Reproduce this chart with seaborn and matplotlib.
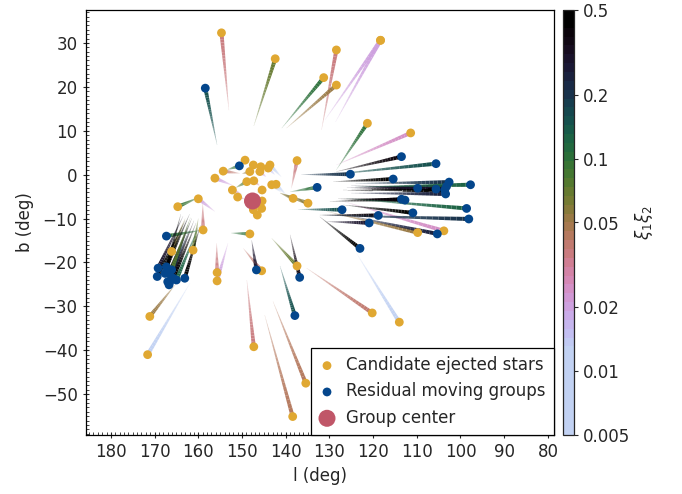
"""
Traceback of candidate ejected stars and residual moving groups
in galactic coordinates, trails coloured by xi1*xi2.
"""

import numpy as np
import matplotlib
matplotlib.use("Agg")
import matplotlib.pyplot as plt
import seaborn as sns
from matplotlib.collections import LineCollection
from matplotlib.colors import ListedColormap, LogNorm
from matplotlib.cm import ScalarMappable
from matplotlib.ticker import MultipleLocator


# candidate ejected stars: present position, trail end, xi1*xi2
ejected_l = [154.7, 142.4, 128.4, 118.3, 118.3, 131.3, 128.4, 121.3, 111.4,
             149.3, 147.4, 145.7, 143.6, 144.0, 148.2, 145.9, 154.3, 156.2,
             148.9, 147.3, 143.2, 142.2, 152.2, 151.0, 145.4, 145.4, 145.5,
             147.4, 146.5, 160.0, 164.7, 148.2, 158.9, 155.7, 155.7, 166.1,
             161.2, 171.1, 171.6, 137.4, 138.3, 134.9, 145.5, 137.4, 120.2,
             114.0, 147.3, 135.4, 138.4, 103.8, 109.8]
ejected_b = [32.3, 26.4, 28.4, 30.6, 30.6, 22.1, 20.4, 11.7, 9.5,
             3.3, 2.2, 1.8, 2.2, 1.5, 0.7, 0.7, 0.8, -0.8,
             -1.6, -1.4, -2.3, -2.2, -3.5, -5.1, -3.5, -6.0, -7.7,
             -8.0, -9.2, -5.5, -7.3, -13.5, -12.6, -22.3, -24.2, -17.5,
             -17.2, -32.3, -41.0, 3.2, -5.4, -6.5, -21.9, -20.8, -31.5,
             -33.6, -39.2, -47.5, -55.1, -12.8, -13.2]
ejected_end_l = [153.0, 147.3, 131.8, 131.0, 128.6, 140.9, 139.8, 128.4, 128.4,
                 151.0, 149.0, 147.0, 141.0, 142.5, 150.0, 144.5, 150.5, 152.0,
                 151.5, 146.0, 141.0, 140.0, 150.0, 149.5, 146.5, 146.2, 146.5,
                 146.5, 145.5, 156.2, 159.5, 152.5, 159.0, 155.8, 153.2, 163.0,
                 160.0, 165.0, 161.9, 138.7, 141.3, 141.3, 149.7, 143.2, 135.2,
                 123.8, 148.9, 142.9, 144.8, 126.8, 130.6]
ejected_end_b = [14.7, 11.1, 10.2, 12.5, 12.0, 10.6, 10.6, 1.1, 2.2,
                 1.5, 1.0, 0.5, -0.5, 0.0, 0.2, -0.5, 0.3, -2.5,
                 -3.0, -2.5, -4.0, -4.5, -4.5, -5.5, -4.0, -6.0, -7.5,
                 -8.8, -9.5, -8.4, -5.0, -13.3, -6.5, -15.6, -15.6, -10.0,
                 -10.0, -24.7, -24.7, -3.1, -4.2, -4.2, -16.8, -14.5, -21.3,
                 -17.9, -24.0, -28.9, -32.0, -6.1, -8.4]
ejected_xi = [0.035, 0.07, 0.035, 0.02, 0.02, 0.1, 0.05, 0.1, 0.025,
              0.1, 0.02, 0.05, 0.01, 0.015, 0.05, 0.02, 0.04, 0.02,
              0.08, 0.03, 0.01, 0.012, 0.02, 0.03, 0.05, 0.04, 0.03,
              0.02, 0.015, 0.02, 0.09, 0.1, 0.035, 0.035, 0.02, 0.06,
              0.07, 0.05, 0.012, 0.035, 0.06, 0.06, 0.04, 0.07, 0.04,
              0.012, 0.035, 0.045, 0.045, 0.025, 0.05]

# residual moving groups
moving_l = [158.4, 113.5, 105.6, 125.2, 132.8, 115.4, 109.8, 105.6, 102.6,
            103.2, 103.6, 103.4, 97.7, 113.5, 112.7, 98.6, 127.1, 110.9,
            118.8, 98.1, 120.9, 105.3, 123.0, 150.6, 146.7, 136.8, 137.9,
            167.3, 169.2, 169.4, 167.3, 166.7, 165.7, 166.7, 165.0, 163.1,
            166.5, 167.6, 167.0, 166.1]
moving_b = [19.7, 4.1, 2.5, 0.1, -2.9, -1.0, -3.1, -3.3, -1.7,
            -2.7, -3.5, -4.4, -2.3, -5.6, -5.8, -7.7, -8.0, -8.7,
            -9.3, -10.1, -11.0, -13.5, -16.8, 2.0, -21.7, -23.4, -32.1,
            -14.0, -21.3, -23.2, -21.0, -22.5, -23.6, -25.1, -24.0, -23.6,
            -24.4, -22.5, -24.4, -21.7]
moving_end_l = [155.7, 128.4, 130.6, 136.4, 139.0, 129.1, 124.9, 125.0, 124.0,
                126.0, 127.0, 125.0, 124.0, 129.9, 128.0, 126.1, 137.1, 126.8,
                132.2, 131.4, 130.6, 126.1, 132.2, 153.5, 147.8, 139.0, 141.3,
                158.9, 163.5, 163.0, 162.0, 161.5, 160.5, 162.5, 160.0, 159.5,
                161.0, 164.0, 162.0, 161.8]
moving_end_b = [6.8, 0.7, -0.1, 0.0, -3.9, -1.6, -3.3, -2.5, -2.0,
                -3.0, -3.5, -4.2, -2.8, -6.1, -5.5, -5.4, -7.9, -6.9,
                -9.2, -9.2, -10.7, -9.2, -9.6, 1.1, -14.9, -13.7, -20.8,
                -12.6, -9.5, -10.5, -9.0, -10.0, -11.0, -11.5, -12.0, -11.5,
                -10.5, -9.0, -12.5, -9.8]
moving_xi = [0.15, 0.4, 0.15, 0.2, 0.1, 0.5, 0.4, 0.3, 0.2,
             0.3, 0.5, 0.25, 0.12, 0.5, 0.4, 0.12, 0.15, 0.5,
             0.4, 0.2, 0.3, 0.25, 0.5, 0.1, 0.3, 0.35, 0.15,
             0.1, 0.3, 0.45, 0.5, 0.4, 0.5, 0.25, 0.12, 0.45,
             0.35, 0.5, 0.2, 0.08]

center_l = [147.6]
center_b = [-6.0]

cbar_ticks = [0.005, 0.01, 0.02, 0.05, 0.1, 0.2, 0.5]

GOLD = "#e0a832"
BLUE = "#04468c"
CENTER = "#c05668"


def make_cmap():
    # reversed cubehelix; the low end stays on the pale blue instead of white
    frac = np.linspace(0.0, 1.0, 48)
    pos = np.clip(1.04 * (1.0 - frac) - 0.02, 0.0, 0.82)
    colors = plt.get_cmap("cubehelix")(pos)
    return ListedColormap(colors)


def draw_trails(ax, l, b, end_l, end_b, xi, cmap, norm, steps=24):
    segs, cols, widths = [], [], []
    frac = np.linspace(0, 1, steps + 1)
    for l0, b0, l1, b1, v in zip(l, b, end_l, end_b, xi):
        pts = np.column_stack([l0 + (l1 - l0) * frac, b0 + (b1 - b0) * frac])
        rgba = cmap(norm(v))
        for i in range(steps):
            t = frac[i]
            segs.append(pts[i:i + 2])
            cols.append((rgba[0], rgba[1], rgba[2], 1.0 - 0.8 * t ** 1.5))
            widths.append(2.8 * (1 - t) + 0.15)
    lc = LineCollection(segs, colors=cols, linewidths=widths,
                        capstyle="butt", zorder=1)
    ax.add_collection(lc)


def main():
    sns.set_style("ticks")
    plt.rcParams["font.family"] = ["DejaVu Sans"]
    plt.rcParams["font.size"] = 12

    fig = plt.figure(figsize=(6.82, 4.94), dpi=100)
    ax = fig.add_axes([86 / 682, 59 / 494, 468 / 682, 425 / 494])
    cax = fig.add_axes([563 / 682, 59 / 494, 11 / 682, 425 / 494])

    cmap = make_cmap()
    norm = LogNorm(vmin=0.005, vmax=0.5)

    draw_trails(ax, ejected_l, ejected_b, ejected_end_l, ejected_end_b,
                ejected_xi, cmap, norm)
    draw_trails(ax, moving_l, moving_b, moving_end_l, moving_end_b,
                moving_xi, cmap, norm)

    sns.scatterplot(x=ejected_l, y=ejected_b, color=GOLD, s=40,
                    edgecolor="none", label="Candidate ejected stars",
                    ax=ax, zorder=3)
    sns.scatterplot(x=moving_l, y=moving_b, color=BLUE, s=40,
                    edgecolor="none", label="Residual moving groups",
                    ax=ax, zorder=4)
    sns.scatterplot(x=center_l, y=center_b, color=CENTER, s=150,
                    edgecolor="none", label="Group center", ax=ax, zorder=5)

    ax.set_xlim(185.7, 78.6)
    ax.set_ylim(-59.3, 37.5)
    ax.set_xticks(np.arange(180, 79, -10))
    ax.set_yticks(np.arange(-50, 31, 10))
    ax.xaxis.set_minor_locator(MultipleLocator(1))
    ax.yaxis.set_minor_locator(MultipleLocator(1))
    ax.tick_params(which="major", direction="inout", length=5, width=0.8,
                   labelsize=12, top=False, right=False)
    ax.tick_params(which="minor", direction="in", length=2.5, width=0.6,
                   top=False, right=False)
    ax.set_xlabel("l (deg)", fontsize=12, labelpad=4)
    ax.set_ylabel("b (deg)", fontsize=12, labelpad=6)
    for spine in ax.spines.values():
        spine.set_color("black")
        spine.set_linewidth(0.9)

    leg = ax.legend(loc="lower right", borderaxespad=0, fontsize=12,
                    fancybox=False, framealpha=1, handlelength=0.9,
                    handletextpad=0.7, borderpad=0.5, labelspacing=0.5)
    leg.get_frame().set_edgecolor("black")
    leg.get_frame().set_linewidth(0.9)

    cb = fig.colorbar(ScalarMappable(norm=norm, cmap=cmap), cax=cax)
    cb.set_ticks(cbar_ticks)
    cb.set_ticklabels([str(t) for t in cbar_ticks])
    cb.ax.minorticks_off()
    cb.ax.tick_params(labelsize=12, length=3, width=0.8)
    cb.outline.set_linewidth(0.9)
    cb.set_label(r"$\xi_1\xi_2$", fontsize=12, labelpad=2)

    fig.savefig("out.png", dpi=100)


if __name__ == "__main__":
    main()
